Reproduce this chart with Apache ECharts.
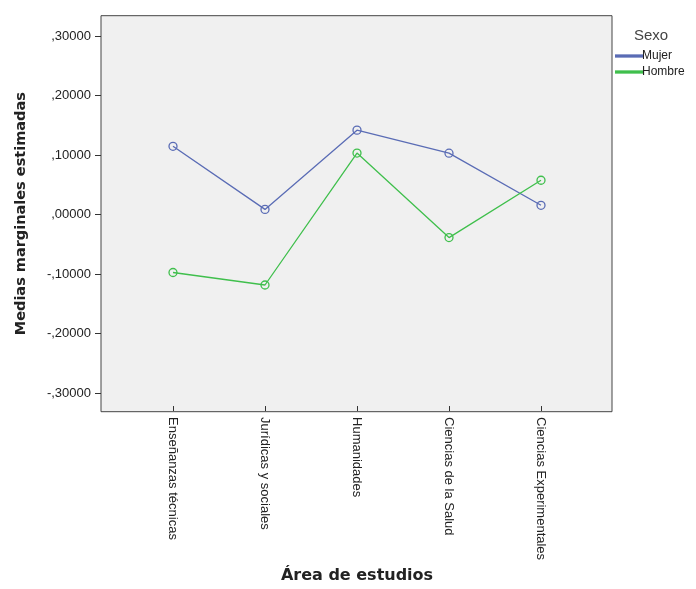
<!DOCTYPE html>
<html><head><meta charset="utf-8">
<script src="https://cdn.jsdelivr.net/npm/echarts@6/dist/echarts.min.js"></script>
<style>html,body{margin:0;padding:0;background:#fff}#c{width:696px;height:589px}</style>
</head><body><div id="c"></div>
<script>
var categories = ['Enseñanzas técnicas','Jurídicas y sociales','Humanidades','Ciencias de la Salud','Ciencias Experimentales'];
var mujer = [0.1115, 0.004, 0.139, 0.0998, 0.011];
var hombre = [-0.1035, -0.1248, 0.100, -0.044, 0.0537];
var yTicks = [-0.3, -0.2, -0.1, 0, 0.1, 0.2, 0.3];
var yMin = -0.331, yMax = 0.334;
var cMujer = '#5a6cb5', cHombre = '#3fbf4c';

function fmt(v){
  var s = Math.abs(v).toFixed(5).replace(/^0/, '').replace('.', ',');
  return (v < -1e-9 ? '-' : '') + s;
}
var chart = echarts.init(document.getElementById('c'), null, {renderer:'canvas'});
var font = 'Liberation Sans, Arial, sans-serif';
chart.setOption({
  animation:false,
  textStyle:{fontFamily:font},
  title:{text:'Sexo', left:634, top:28, padding:0, textStyle:{fontSize:15, fontWeight:'normal', color:'#444', fontFamily:font}},
  legend:{
    orient:'vertical', left:615, top:49, padding:0, itemWidth:26, itemHeight:1.3, itemGap:2, icon:'rect',
    textStyle:{fontSize:12, color:'#222', padding:[0,0,0,-5], lineHeight:14},
    data:[{name:'Mujer', itemStyle:{color:cMujer}}, {name:'Hombre', itemStyle:{color:cHombre}}]
  },
  grid:[
    {left:101, right:84, top:15.7, bottom:177.3, show:true, backgroundColor:'#f0f0f0', borderColor:'#444', borderWidth:1},
    {left:173, right:155, top:15.7, bottom:177.3}
  ],
  xAxis:[
    {gridIndex:0, type:'value', show:false, min:0, max:1},
    {gridIndex:1, type:'category', data:categories, boundaryGap:false,
     name:'Área de estudios', nameLocation:'middle', nameGap:161,
     nameTextStyle:{fontSize:16, fontWeight:'bold', color:'#222', fontFamily:'DejaVu Sans'},
     axisLine:{show:false, onZero:false},
     axisTick:{show:true, length:5, lineStyle:{color:'#333'}, alignWithLabel:true},
     axisLabel:{rotate:-90, fontSize:13, color:'#222', margin:11, interval:0}
    }
  ],
  yAxis:[
    {gridIndex:0, type:'value', min:yMin, max:yMax,
     name:'Medias marginales estimadas', nameLocation:'middle', nameGap:72,
     nameTextStyle:{fontSize:14.5, fontWeight:'bold', color:'#222', fontFamily:'DejaVu Sans'},
     axisLine:{show:false},
     splitLine:{show:false},
     axisTick:{show:true, length:6, lineStyle:{color:'#333'}, customValues:yTicks},
     axisLabel:{fontSize:13, color:'#222', margin:10, formatter:fmt, customValues:yTicks}
    },
    {gridIndex:1, type:'value', min:yMin, max:yMax, show:false}
  ],
  series:[
    {name:'Mujer', type:'line', xAxisIndex:1, yAxisIndex:1, data:mujer,
     symbol:'circle', symbolSize:8,
     lineStyle:{width:1.3, color:cMujer}, itemStyle:{color:'rgba(0,0,0,0)', borderColor:cMujer, borderWidth:1.3}},
    {name:'Hombre', type:'line', xAxisIndex:1, yAxisIndex:1, data:hombre,
     symbol:'circle', symbolSize:8,
     lineStyle:{width:1.3, color:cHombre}, itemStyle:{color:'rgba(0,0,0,0)', borderColor:cHombre, borderWidth:1.3}}
  ]
});
</script></body></html>
